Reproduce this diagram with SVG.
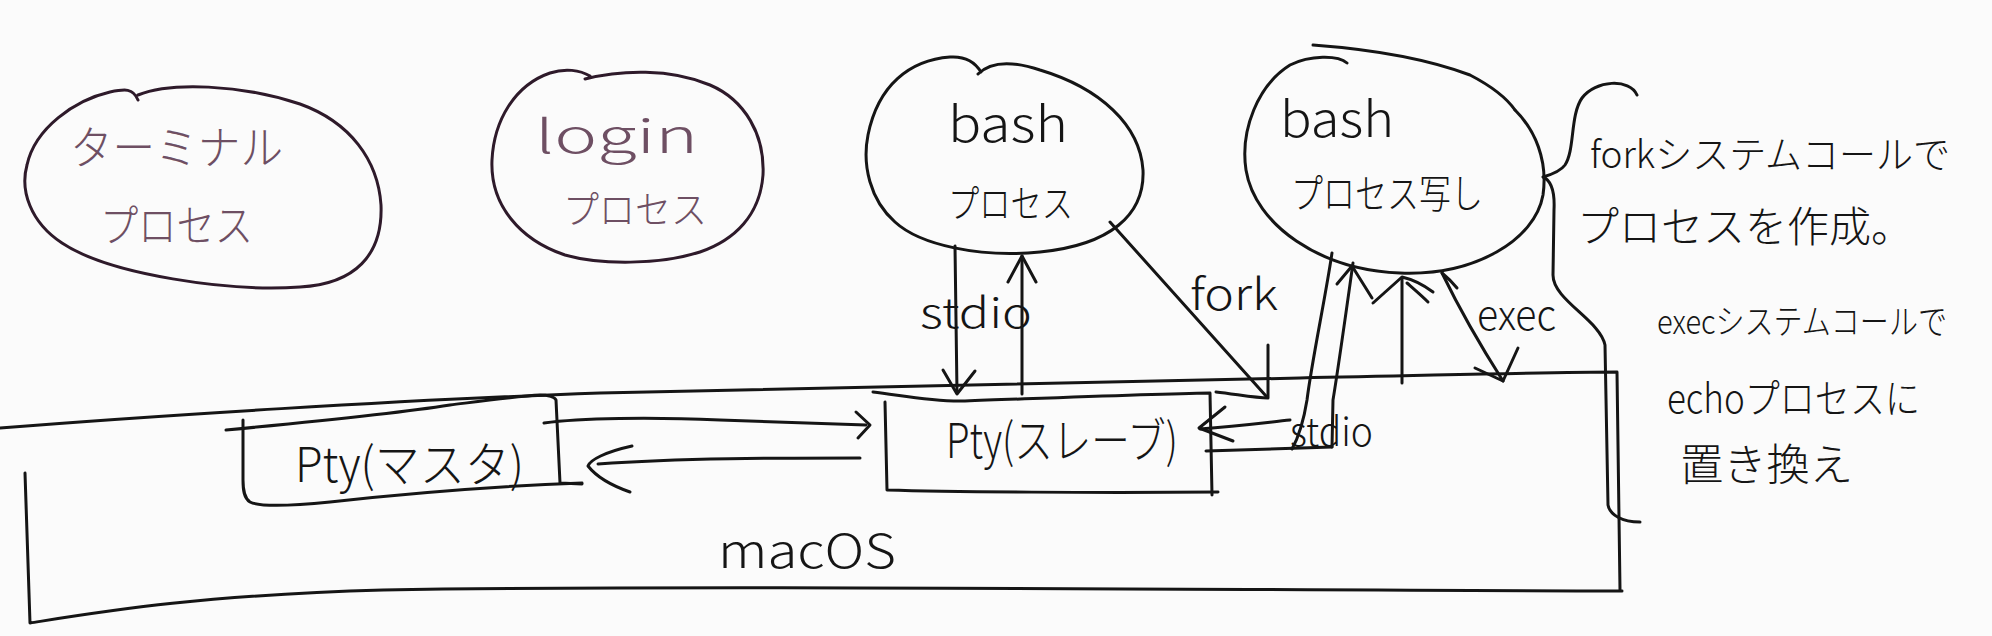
<svg xmlns="http://www.w3.org/2000/svg" width="1992" height="636" viewBox="0 0 1992 636">
<style>
.ln{fill:none;stroke:#151515;stroke-width:3;stroke-linecap:round;stroke-linejoin:round}
.pl{fill:none;stroke:#2e1a2a;stroke-width:3;stroke-linecap:round}
.t{font-family:"Noto Sans CJK JP","Noto Sans",sans-serif;fill:#151515;font-weight:300}
.tp{font-family:"Noto Sans CJK JP","Noto Sans",sans-serif;fill:#6e4f63;font-weight:300}
</style>
<rect width="1992" height="636" fill="#fbfbfb"/>
<g id="terminal">
<path class="pl" d="M138,95 C170,82 240,84 300,104 C350,122 378,160 381,205 C383,255 355,284 300,287 C230,292 110,275 62,243 C30,222 20,190 27,165 C35,128 75,100 110,92 C125,89 133,88 138,100"/>
<text class="tp" x="70" y="164" font-size="46" textLength="213" lengthAdjust="spacingAndGlyphs">ターミナル</text>
<text class="tp" x="100" y="242" font-size="44" textLength="153" lengthAdjust="spacingAndGlyphs">プロセス</text>
</g>
<g id="login">
<path class="pl" d="M585,79 C620,70 670,68 710,85 C745,100 765,135 763,175 C760,215 735,240 700,252 C660,265 600,265 565,255 C520,240 490,205 492,160 C494,120 515,85 550,73 C565,68 580,70 590,76"/>
<text class="tp" x="535" y="153" font-size="46" textLength="163" lengthAdjust="spacingAndGlyphs">login</text>
<text class="tp" x="563" y="223" font-size="38" textLength="144" lengthAdjust="spacingAndGlyphs">プロセス</text>
</g>
<g id="bash">
<path class="ln" d="M978,74 C990,62 1010,60 1040,70 C1100,88 1140,125 1143,170 C1145,215 1110,245 1040,252 C980,258 920,245 895,222 C870,200 862,165 868,135 C878,85 910,60 950,57 C965,56 975,62 981,72"/>
<text class="t" x="948" y="142" font-size="48" textLength="120" lengthAdjust="spacingAndGlyphs">bash</text>
<text class="t" x="948" y="217" font-size="38" textLength="125" lengthAdjust="spacingAndGlyphs">プロセス</text>
</g>
<g id="bash-copy">
<path class="ln" d="M1347,63 C1338,55 1310,55 1290,65 C1258,85 1240,130 1246,170 C1255,225 1320,270 1400,273 C1475,276 1535,240 1543,195 C1548,160 1535,130 1515,110"/>
<path class="ln" d="M1313,45 C1380,50 1430,60 1470,75 C1495,88 1508,100 1515,110"/>
<text class="t" x="1280" y="137" font-size="48" textLength="114" lengthAdjust="spacingAndGlyphs">bash</text>
<text class="t" x="1291" y="208" font-size="40" textLength="192" lengthAdjust="spacingAndGlyphs">プロセス写し</text>
</g>
<g id="macos">
<path class="ln" d="M0,428 C150,416 400,400 600,393 C800,390 1000,385 1300,378 C1450,375 1550,372 1617,372 L1620,590"/>
<path class="ln" d="M25,473 L30,623 C100,612 200,595 383,590 C700,585 1200,590 1622,591"/>
<text class="t" x="718" y="568" font-size="46" textLength="178" lengthAdjust="spacingAndGlyphs">macOS</text>
</g>
<g id="pty-master">
<path class="ln" d="M226,430 C300,423 400,413 450,405 C490,400 520,396 540,395 C548,395 555,397 556,400 L560,483 L582,484"/>
<path class="ln" d="M582,483 C500,486 420,492 330,502 C290,506 260,507 250,502 C244,498 243,490 243,480 L243,420"/>
<text class="t" x="295" y="482" font-size="48" textLength="229" lengthAdjust="spacingAndGlyphs">Pty(マスタ)</text>
</g>
<g id="pty-slave">
<path class="ln" d="M873,392 C900,395 930,402 965,401 C1050,398 1150,394 1210,393 L1212,495"/>
<path class="ln" d="M885,402 L887,490 C950,492 1100,493 1218,492"/>
<text class="t" x="946" y="458" font-size="48" textLength="232" lengthAdjust="spacingAndGlyphs">Pty(スレーブ)</text>
</g>
<g id="connectors">
<path class="ln" d="M955,246 L957,393"/>
<path class="ln" d="M943,370 L957,394 L975,371"/>
<path class="ln" d="M1022,394 L1022,256"/>
<path class="ln" d="M1008,282 L1022,256 L1036,282"/>
<text class="t" x="920" y="328" font-size="42" textLength="112" lengthAdjust="spacingAndGlyphs">stdio</text>
<path class="ln" d="M1110,222 L1266,396"/>
<path class="ln" d="M1268,345 L1268,398 C1255,398 1235,394 1216,392"/>
<text class="t" x="1190" y="310" font-size="44" textLength="88" lengthAdjust="spacingAndGlyphs">fork</text>
<path class="ln" d="M544,423 C580,418 650,417 720,420 C780,422 830,424 866,425"/>
<path class="ln" d="M856,412 L870,425 L858,438"/>
<path class="ln" d="M860,458 C780,458 680,458 598,464"/>
<path class="ln" d="M632,446 C605,452 590,460 588,466 C595,475 610,485 630,492"/>
<path class="ln" d="M1290,420 C1270,422 1240,426 1200,429"/>
<path class="ln" d="M1225,407 L1199,428 L1233,441"/>
<path class="ln" d="M1206,451 L1332,447"/>
<path class="ln" d="M1332,253 C1325,300 1312,360 1307,400 C1303,425 1297,440 1292,449"/>
<path class="ln" d="M1353,263 C1345,320 1338,370 1333,400 L1332,447"/>
<path class="ln" d="M1337,284 L1352,266 L1372,298"/>
<text class="t" x="1290" y="446" font-size="40" textLength="83" lengthAdjust="spacingAndGlyphs">stdio</text>
<path class="ln" d="M1402,383 L1402,278"/>
<path class="ln" d="M1373,303 L1402,277 C1415,280 1425,286 1433,292"/>
<path class="ln" d="M1407,283 C1415,290 1422,296 1428,302"/>
<path class="ln" d="M1442,273 C1460,310 1480,345 1503,381"/>
<path class="ln" d="M1475,368 L1503,381 L1518,348"/>
<path class="ln" d="M1442,273 C1448,278 1453,283 1457,288"/>
<text class="t" x="1477" y="330" font-size="42" textLength="79" lengthAdjust="spacingAndGlyphs">exec</text>
</g>
<g id="note">
<path class="ln" d="M1637,95 C1630,78 1595,80 1582,98 C1570,115 1575,150 1565,165 C1560,172 1550,175 1543,177 C1550,180 1555,190 1554,210 L1553,275 C1553,300 1600,320 1605,345 L1608,505 C1610,515 1622,522 1640,522"/>
<text class="t" x="1590" y="168" font-size="38" textLength="360" lengthAdjust="spacingAndGlyphs">forkシステムコールで</text>
<text class="t" x="1577" y="242" font-size="42" textLength="336" lengthAdjust="spacingAndGlyphs">プロセスを作成。</text>
<text class="t" x="1657" y="334" font-size="34" textLength="290" lengthAdjust="spacingAndGlyphs">execシステムコールで</text>
<text class="t" x="1667" y="413" font-size="40" textLength="253" lengthAdjust="spacingAndGlyphs">echoプロセスに</text>
<text class="t" x="1680" y="481" font-size="44" textLength="173" lengthAdjust="spacingAndGlyphs">置き換え</text>
</g>
</svg>
